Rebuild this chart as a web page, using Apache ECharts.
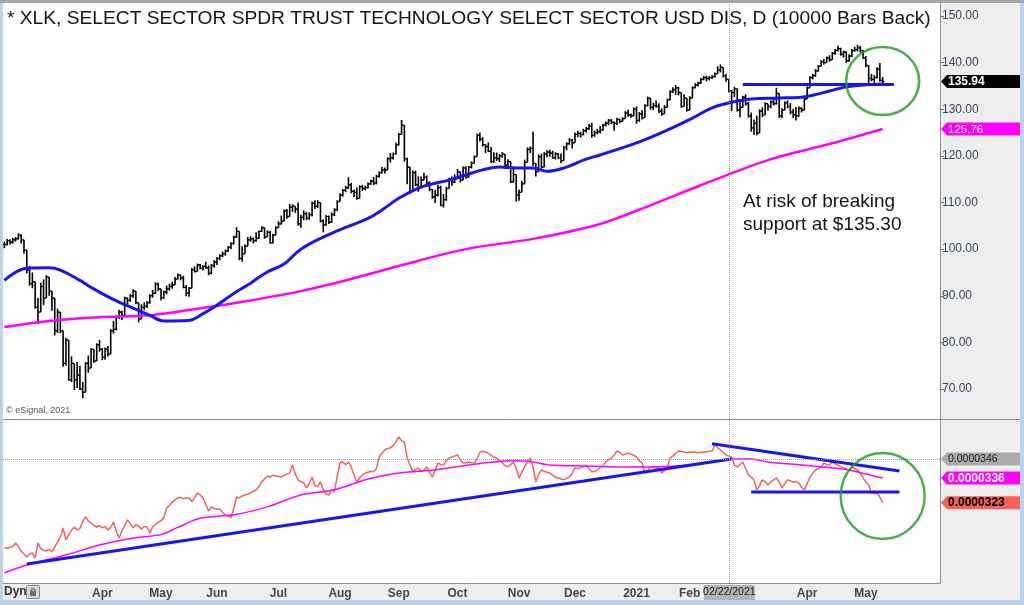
<!DOCTYPE html>
<html>
<head>
<meta charset="utf-8">
<title>XLK daily</title>
<script src="https://cdn.jsdelivr.net/npm/echarts@6/dist/echarts.min.js"></script>
<style>
  html, body { margin: 0; padding: 0; background: #bcd3ec; }
  #chart { width: 1024px; height: 605px; }
</style>
</head>
<body>
<div id="chart"></div>
<script>
// 交易日: 2020-02-11 起, 周末和休市日除外
const firstDay = [2020, 1, 11];
const totalSlots = 335; // 包含右边留白的空位
const holidays = ['2020-02-17', '2020-04-10', '2020-05-25', '2020-07-03', '2020-09-07',
  '2020-11-26', '2020-12-25', '2021-01-01', '2021-01-18', '2021-02-15', '2021-04-02', '2021-05-31'];
const monthNames = ['Jan', 'Feb', 'Mar', 'Apr', 'May', 'Jun', 'Jul', 'Aug', 'Sep', 'Oct', 'Nov', 'Dec'];
const noLabelMonths = ['2020-03', '2021-03'];
const noTickMonths = ['2020-03'];
const priceTicks = [70, 80, 90, 100, 110, 120, 130, 140, 150];

// XLK 日线收盘/最高/最低
const closes = [
  101.0, 101.8, 101.5, 102.0, 102.2, 103.0, 102.0, 99.8, 95.5, 92.6, 93.0, 87.5, 86.5,
  92.0, 89.5, 94.0, 91.0, 89.5, 82.5, 86.5, 82.5, 75.5, 80.5, 72.0, 75.5, 72.0, 73.0, 70.0, 69.3, 75.5, 74.5, 78.5, 76.0, 79.5, 78.5,
  76.8, 78.5, 77.5, 82.5, 82.8, 85.5, 86.5, 85.8, 89.5, 89.0, 90.0, 91.0, 88.5, 85.0, 87.5, 87.8, 88.5, 90.0, 90.5, 92.5, 91.5,
  89.6, 90.8, 91.5, 92.0, 92.3, 93.6, 94.4, 93.8, 91.8, 90.6, 91.6, 95.6, 95.2, 96.6, 95.9, 96.3, 96.0, 94.8, 96.5, 97.2,
  98.0, 98.6, 99.0, 99.6, 100.4, 101.2, 102.6, 103.8, 98.0, 99.0, 100.6, 102.0, 102.2, 101.8, 102.3, 103.8, 104.6, 102.6, 103.6, 101.4, 103.0, 104.6,
  105.4, 106.0, 108.2, 107.0, 109.0, 109.2, 108.6, 105.4, 106.8, 107.6, 106.6, 107.4, 109.8, 109.2, 110.0, 106.0, 105.2, 107.0, 105.8, 107.4, 108.4, 110.2,
  111.6, 112.6, 113.2, 113.8, 112.4, 112.2, 110.9, 113.4, 113.0, 113.2, 114.0, 114.6, 114.2, 115.6, 116.4, 117.0, 117.0, 119.4, 119.6, 120.4, 122.4,
  124.6, 126.6, 119.4, 117.6, 112.4, 116.4, 113.8, 113.2, 114.8, 115.4, 114.2, 112.8, 111.2, 111.6, 113.2, 109.4, 110.6, 113.0, 115.0, 114.4, 115.2,
  116.6, 114.8, 117.4, 115.4, 117.6, 118.4, 119.8, 124.4, 123.6, 122.4, 122.0, 121.0, 118.8, 119.6, 119.4, 120.0, 120.4, 118.0, 118.8, 114.4, 116.0, 111.6,
  112.2, 114.0, 118.6, 121.4, 121.6, 118.4, 116.6, 119.8, 117.6, 120.4, 120.8, 120.6, 119.6, 120.4, 119.6, 119.0, 121.8, 122.6, 123.4, 122.8,
  124.6, 124.8, 124.6, 125.4, 125.8, 126.4, 124.4, 125.0, 125.2, 125.6, 126.6, 127.0, 127.6, 127.2, 127.0, 127.8, 127.4, 128.0, 129.2, 128.8, 128.6, 130.0,
  127.6, 129.0, 128.2, 130.8, 132.4, 130.4, 130.8, 130.6, 129.6, 129.0, 130.4, 132.0, 133.8, 134.2, 134.6, 133.6, 130.6, 132.4, 129.8,
  132.4, 134.6, 135.2, 135.6, 136.4, 136.8, 136.6, 136.8, 137.0, 137.6, 138.4, 139.0, 137.2, 136.4, 134.0, 133.6, 134.4, 129.8, 130.4,
  132.6, 131.2, 128.6, 126.0, 127.0, 124.9, 129.6, 128.8, 131.2, 130.6, 131.6, 131.2, 133.4, 128.6, 129.8, 131.4, 130.6, 129.4, 128.8, 128.6, 130.2, 129.8, 132.2,
  134.6, 136.8, 137.2, 138.2, 139.2, 140.2, 140.0, 141.0, 140.6, 142.0, 142.6, 143.0, 141.8, 142.2, 140.4, 141.4, 142.6, 142.8, 143.2, 142.6, 141.0,
  139.4, 136.6, 136.4, 136.8, 138.6, 136.2, 135.94
];
const highs = [
  101.6, 102.2, 102.1, 102.4, 102.6, 103.4, 103.2, 101.8, 97.5, 96.4, 95.0, 91.8, 89.5,
  92.8, 93.5, 94.4, 93.2, 90.6, 86.0, 87.2, 85.5, 79.8, 81.0, 77.5, 77.0, 74.8, 75.8, 75.0, 71.5, 75.8, 77.2, 78.8, 77.8, 79.8, 80.5,
  78.8, 78.9, 79.2, 82.8, 84.6, 85.8, 87.0, 86.8, 89.8, 89.6, 90.4, 91.4, 90.2, 87.6, 88.2, 88.6, 88.9, 90.3, 91.2, 92.9, 92.8,
  91.2, 91.1, 92.2, 92.6, 93.0, 94.0, 94.8, 94.6, 94.3, 92.3, 91.9, 96.0, 96.3, 96.9, 96.8, 96.6, 97.3, 96.5, 96.8, 97.6,
  98.3, 98.9, 99.5, 99.9, 100.7, 101.5, 102.9, 104.7, 102.0, 100.6, 101.0, 102.6, 102.8, 102.5, 103.6, 104.0, 104.9, 104.4, 104.0, 103.9, 103.3, 104.9,
  106.0, 107.2, 108.5, 108.6, 109.7, 109.6, 109.0, 110.0, 107.4, 108.3, 108.0, 107.9, 110.2, 110.5, 110.5, 109.4, 106.4, 107.3, 107.2, 107.9, 108.8, 110.5,
  112.0, 112.9, 113.6, 115.4, 114.2, 112.8, 113.2, 113.7, 113.8, 113.6, 114.3, 114.9, 115.5, 115.9, 116.7, 117.6, 117.5, 119.7, 120.6, 120.7, 122.8,
  124.9, 127.7, 126.0, 119.6, 115.8, 116.9, 116.8, 115.6, 115.6, 116.4, 115.8, 114.5, 112.9, 112.7, 113.8, 113.6, 111.8, 113.4, 115.3, 115.6, 116.0,
  117.2, 116.4, 117.7, 117.8, 117.8, 118.8, 120.1, 124.8, 125.0, 124.0, 122.5, 122.9, 121.9, 120.8, 120.7, 120.4, 120.8, 120.3, 119.3, 117.7, 117.4, 114.6,
  112.8, 114.6, 119.2, 121.8, 122.0, 125.2, 118.4, 120.3, 120.5, 120.8, 121.2, 121.3, 121.1, 120.8, 120.6, 120.5, 122.1, 122.9, 123.8, 123.6,
  125.0, 125.4, 125.2, 125.8, 126.2, 126.9, 127.1, 125.4, 125.8, 126.4, 126.9, 127.4, 127.9, 127.9, 127.4, 128.2, 128.0, 128.3, 129.6, 129.9, 129.1, 130.4,
  130.6, 129.4, 129.8, 131.1, 132.7, 131.6, 131.4, 131.9, 131.3, 130.2, 130.9, 132.3, 134.1, 134.7, 135.2, 134.8, 132.4, 133.2, 132.1,
  132.8, 134.9, 135.6, 135.9, 136.7, 137.1, 137.2, 137.1, 137.3, 137.9, 139.2, 139.6, 138.6, 137.6, 135.8, 134.2, 134.8, 134.2, 131.5,
  132.9, 133.2, 131.6, 129.3, 127.8, 128.6, 130.0, 130.4, 131.5, 131.0, 131.9, 132.5, 134.6, 133.0, 130.2, 131.7, 131.9, 131.3, 130.1, 130.5, 130.6, 130.4, 132.6,
  134.9, 137.1, 137.6, 138.6, 139.5, 140.5, 140.8, 141.3, 141.6, 142.3, 142.9, 143.6, 143.2, 142.6, 142.5, 141.8, 142.9, 143.4, 143.8, 143.6, 142.7,
  141.4, 138.4, 137.6, 137.3, 139.0, 139.9, 136.9
];
const lows = [
  100.2, 100.8, 101.0, 101.2, 101.6, 102.1, 101.2, 99.0, 94.8, 92.2, 91.6, 87.2, 84.0,
  87.4, 88.0, 90.2, 90.0, 86.8, 81.5, 82.0, 82.0, 74.8, 75.0, 71.8, 71.5, 69.8, 70.2, 69.8, 68.0, 72.5, 73.5, 74.6, 75.6, 76.2, 78.0,
  76.2, 76.3, 77.0, 78.5, 81.9, 82.6, 85.0, 84.8, 86.5, 88.1, 88.7, 89.6, 88.2, 84.3, 85.2, 86.9, 87.4, 88.3, 89.6, 90.4, 91.0,
  89.0, 89.3, 90.3, 91.1, 91.5, 92.6, 93.5, 93.3, 91.6, 89.9, 89.8, 93.8, 95.0, 95.3, 95.7, 95.4, 95.8, 94.4, 94.6, 96.0,
  96.6, 97.6, 98.3, 98.6, 99.4, 100.0, 101.0, 102.4, 97.6, 97.3, 99.2, 100.9, 101.6, 101.2, 101.6, 102.2, 103.7, 102.2, 102.7, 101.1, 101.2, 103.0,
  104.6, 105.3, 106.3, 106.5, 107.0, 108.0, 107.8, 105.0, 104.6, 106.2, 106.2, 106.3, 107.0, 108.6, 108.8, 105.7, 103.6, 105.0, 105.4, 105.6, 107.1, 108.2,
  110.6, 111.3, 112.2, 112.9, 112.0, 111.2, 110.6, 111.4, 112.5, 112.6, 113.0, 113.8, 113.7, 113.9, 115.3, 116.2, 116.2, 116.9, 118.6, 119.2, 120.3,
  122.2, 124.6, 118.8, 113.9, 111.8, 113.4, 113.5, 112.3, 113.4, 114.9, 113.9, 112.4, 110.8, 109.9, 111.3, 109.2, 108.9, 110.4, 113.1, 113.6, 114.2,
  115.2, 114.3, 115.0, 115.1, 115.8, 117.3, 118.5, 121.6, 123.1, 122.0, 120.6, 120.8, 118.4, 118.5, 118.9, 118.7, 119.6, 117.2, 117.7, 114.2, 114.3, 110.2,
  110.4, 112.9, 116.6, 119.6, 120.6, 117.8, 115.6, 117.4, 117.3, 118.2, 119.7, 119.8, 119.4, 119.2, 119.3, 118.4, 119.3, 121.2, 122.4, 121.6,
  123.2, 124.0, 123.9, 124.4, 125.0, 125.6, 123.9, 124.1, 124.6, 124.8, 125.4, 126.3, 126.6, 126.8, 125.4, 126.6, 127.0, 127.3, 128.2, 128.4, 128.2, 128.5,
  126.9, 127.3, 127.8, 128.9, 130.6, 129.9, 129.8, 130.3, 129.2, 128.6, 129.5, 130.9, 132.6, 133.5, 133.1, 133.0, 130.3, 131.1, 129.5,
  129.8, 132.6, 134.5, 134.9, 135.4, 136.2, 136.0, 136.2, 136.5, 136.8, 137.7, 137.9, 136.8, 135.9, 133.6, 129.6, 132.6, 129.5, 128.3,
  130.9, 130.8, 128.2, 125.2, 124.5, 124.4, 126.3, 128.3, 129.9, 129.7, 130.2, 130.8, 131.0, 128.2, 128.1, 129.9, 130.2, 128.9, 128.1, 127.6, 128.4, 129.3, 129.8,
  132.5, 135.4, 136.4, 137.0, 138.1, 139.2, 139.6, 140.0, 140.2, 140.6, 141.7, 142.4, 141.5, 141.1, 139.9, 140.2, 141.2, 142.3, 142.4, 142.2, 140.8,
  139.0, 135.5, 136.0, 135.7, 136.6, 135.9, 135.6
];

// 均线 [交易日序号, 值]
const ma50 = [[0, 93.3], [8, 95.9], [16, 96.0], [20, 95.5], [27, 93.3], [31, 91.8], [38, 89.5], [45, 87.6],
  [52, 85.8], [57, 84.6], [66, 84.7], [70, 85.8], [75, 87.6], [82, 90.5], [88, 92.7], [94, 95.1], [100, 96.8],
  [106, 100.0], [117, 103.4], [130, 106.6], [135, 108.4], [141, 110.9], [148, 113.1], [153, 114.0], [159, 114.8],
  [165, 115.9], [171, 117.0], [177, 117.6], [183, 117.4], [189, 117.4], [194, 116.7], [201, 117.6], [207, 119.1],
  [213, 120.2], [227, 123.0], [238, 125.8], [246, 128.1], [253, 130.3], [260, 131.5], [267, 132.2], [277, 132.4],
  [285, 132.6], [289, 133.0], [295, 133.9], [301, 134.8], [307, 135.2], [314, 135.4]];
const ma200 = [[0, 83.3], [16, 84.6], [34, 85.4], [52, 85.8], [70, 87.3], [88, 89.0], [106, 91.0], [124, 93.6],
  [141, 96.4], [165, 100.0], [189, 102.2], [213, 105.4], [231, 109.4], [249, 113.7], [273, 119.1], [296, 122.7], [314, 125.76]];
const supportLine = [[264, 135.3], [318, 135.3]];

// 相对强度 (单位 1e-7)
const rsScale = 1e7;
const rsLine = [
  299.5, 299, 299.5, 299.8, 301.8, 300, 297.5, 296, 294.4, 296,
  296.5, 294, 301.8, 299, 298, 297.5, 298.5, 297, 299.7, 302.3,
  305, 309.7, 303.4, 306, 308.6, 310, 308.6, 309.5, 313, 315.5,
  313.5, 312.3, 311, 310.2, 311, 309.7, 310.5, 308.6, 310, 312.8,
  308, 304.4, 308, 311, 313.9, 312, 309.7, 311.5, 310.7, 309,
  310.5, 310.2, 307, 310.2, 311.5, 312.8, 313.5, 315, 320.2, 321.5,
  323.4, 324.5, 325.5, 325.8, 325, 325.5, 325.5, 323.4, 325.5, 328.1,
  327, 325.5, 322, 318.6, 320.7, 320, 319.5, 319.7, 318, 316.5,
  316, 315, 320, 326, 325.5, 326.5, 327, 327.5, 328.1, 329,
  329.7, 331.5, 333.9, 335.5, 337, 336.5, 337.5, 337, 336.8, 336.5,
  337.5, 338, 338.6, 342.8, 338, 335, 334, 333.4, 330.7, 333,
  336.5, 332, 331.3, 333.9, 329.7, 327.5, 327, 329.7, 329, 337,
  343.9, 344.5, 343, 344.4, 341.8, 337.5, 333.9, 336, 337.6, 338.5,
  339, 339.5, 339.2, 341, 347, 349, 350.7, 351.5, 351.8, 353,
  355, 357.6, 355.5, 355, 346.5, 343, 339.2, 340.5, 341.3, 339.2,
  340, 341.8, 339, 336.5, 340, 343.9, 343, 342.8, 345, 346.5,
  347, 347.5, 348.1, 345.5, 343.9, 344, 344.4, 344, 343.9, 346,
  349.7, 350, 349.7, 349, 348, 347, 346.5, 345.5, 344, 342.5,
  341.8, 343, 344.4, 341, 336, 339, 341.8, 344.5, 346.5, 341.8,
  333.9, 338, 340.2, 339.5, 339, 338.6, 337.5, 336.5, 336, 335.5,
  335, 335.8, 336.5, 338.5, 341.3, 341, 341.3, 342, 342.8, 341,
  339.2, 339.5, 340.2, 341.5, 342.5, 344.4, 345.5, 346.5, 348, 350.2,
  349.5, 348.1, 348.5, 349.1, 348.5, 348, 347, 345, 343.9, 338.6,
  340, 341.8, 341.5, 341.3, 341.3, 338.6, 340, 341.8, 346.5, 347.5,
  349, 350.2, 350, 349.5, 349.2, 349.5, 349.7, 349.5, 349.2, 349.5,
  349.7, 349.7, 350, 350.2, 353.4, 352, 350.7, 349.5, 348.1, 347.5,
  347, 342.8, 341.8, 343, 344.4, 341, 337.6, 336.5, 335, 329.7,
  332, 335, 334, 332.3, 334, 335, 336, 334, 330.7, 333,
  335, 334.5, 333.9, 334, 333.4, 331, 329.7, 333, 336.5, 338.5,
  340.2, 341, 341.8, 343.9, 343, 342.8, 344.4, 343.5, 342.8, 342,
  341.3, 340.8, 340.2, 341.8, 341, 340.2, 338.5, 336, 334, 332.3,
  328.1, 328, 328.1, 326, 323
];
const rsMa = [[0, 286], [8, 290.2], [22, 295.5], [34, 300.7], [46, 304.4], [56, 306.2], [62, 310], [70, 314.8],
  [82, 316.6], [94, 320.8], [106, 327], [118, 329.8], [130, 335.5], [142, 338.8], [154, 340.2], [166, 342.8],
  [175, 344.4], [183, 345], [189, 344.4], [195, 342.8], [207, 342.3], [219, 341.8], [231, 341.8], [243, 342.5],
  [249, 343.9], [261, 346], [267, 346], [273, 344.4], [285, 342.8], [296, 341.3], [302, 340.2], [308, 338.1], [314, 336]];
const rsTrendUp = [[8, 290.7], [260, 346]];
const rsTrendTop = [[253, 354], [320, 339.7]];
const rsTrendLow = [[267, 328.6], [320, 328.6]];

// 光标 & 圈注
const cursorDate = '2021-02-22';
const cursorRs = 346;
const priceCircle = [[314, 136.05]];
const rsCircle = [[314, 326.5]];

const FONT = 'Liberation Sans, Arial, sans-serif';
const frameBlue = '#bcd3ec';
const blue = '#1616ee';
const magenta = '#ff00ff';
const green = '#1f991f';

// 生成交易日
const days = [];
const d = new Date(Date.UTC(firstDay[0], firstDay[1], firstDay[2]));
while (days.length < totalSlots) {
  const s = d.toISOString().slice(0, 10);
  const wd = d.getUTCDay();
  if (wd !== 0 && wd !== 6 && holidays.indexOf(s) < 0) days.push(s);
  d.setUTCDate(d.getUTCDate() + 1);
}
const lastIdx = closes.length - 1;
const monthStart = i => i > 0 && days[i].slice(0, 7) !== days[i - 1].slice(0, 7);
const showLabel = i => monthStart(i) && i <= lastIdx && noLabelMonths.indexOf(days[i].slice(0, 7)) < 0;
const showTick = i => monthStart(i) && i <= lastIdx && noTickMonths.indexOf(days[i].slice(0, 7)) < 0;
const monthLabel = v => {
  const m = +v.slice(5, 7);
  return m === 1 ? v.slice(0, 4) : monthNames[m - 1];
};

// OHLC 数据 (开盘取前一日收盘)
const ohlc = closes.map((c, i) => [i, i > 0 ? closes[i - 1] : c, highs[i], lows[i], c]);

function renderBar(params, api) {
  const i = api.value(0);
  const yo = api.coord([i, api.value(1)])[1];
  const yh = api.coord([i, api.value(2)])[1];
  const yl = api.coord([i, api.value(3)])[1];
  const p = api.coord([i, api.value(4)]);
  const x = p[0], yc = p[1];
  const top = Math.min(yh, yo, yc), bottom = Math.max(yl, yo, yc);
  const style = { stroke: '#000', lineWidth: 1.6 };
  return {
    type: 'group',
    children: [
      { type: 'line', shape: { x1: x, y1: top, x2: x, y2: bottom }, style },
      { type: 'line', shape: { x1: x - 1.8, y1: yo, x2: x, y2: yo }, style: { stroke: '#000', lineWidth: 1.2 } },
      { type: 'line', shape: { x1: x, y1: yc, x2: x + 1.8, y2: yc }, style: { stroke: '#000', lineWidth: 1.2 } }
    ]
  };
}

const lineSeries = (name, data, xi, color, width, extra) => Object.assign({
  name, type: 'line', xAxisIndex: xi, yAxisIndex: xi, data,
  symbol: 'none', lineStyle: { color, width }, silent: true
}, extra || {});

const cursorMark = (data) => ({
  silent: true, symbol: 'none', animation: false, label: { show: false },
  lineStyle: { type: 'dotted', color: '#9a9a9a', width: 1 }, data
});

const staticGraphic = [
  { type: 'rect', z: 50, shape: { x: 0, y: 0, width: 3, height: 605 }, style: { fill: frameBlue } },
  { type: 'rect', z: 50, shape: { x: 1020, y: 0, width: 4, height: 605 }, style: { fill: frameBlue } },
  { type: 'rect', z: 50, shape: { x: 0, y: 600, width: 1024, height: 5 }, style: { fill: frameBlue } },
  { type: 'rect', z: 50, shape: { x: 0, y: 0, width: 1024, height: 3 }, style: { fill: '#a6a6a6' } },
  { type: 'line', z: 50, shape: { x1: 940.5, y1: 3, x2: 940.5, y2: 583 }, style: { stroke: '#8e8e8e', lineWidth: 1 } },
  { type: 'line', z: 50, shape: { x1: 3, y1: 419.5, x2: 1020, y2: 419.5 }, style: { stroke: '#8e8e8e', lineWidth: 1 } },
  { type: 'text', z: 50, x: 7, y: 19, style: { text: '* XLK, SELECT SECTOR SPDR TRUST TECHNOLOGY SELECT SECTOR USD DIS, D (10000 Bars Back)',
    font: '19.2px ' + FONT, fill: '#141414', verticalAlign: 'middle' } },
  { type: 'text', z: 50, x: 743, y: 190, style: { text: 'At risk of breaking\nsupport at $135.30',
    font: '19px ' + FONT, fill: '#141414', lineHeight: 23 } },
  { type: 'text', z: 50, x: 6, y: 411, style: { text: '\u00a9 eSignal, 2021', font: '9px ' + FONT, fill: '#555', verticalAlign: 'middle' } },
  { type: 'text', z: 50, x: 4, y: 592, style: { text: 'Dyn', font: 'bold 12px ' + FONT, fill: '#333', verticalAlign: 'middle' } },
  { type: 'rect', z: 50, shape: { x: 26.5, y: 585.5, width: 13, height: 13, r: 1 }, style: { fill: '#d6d6d6', stroke: '#8a8a8a', lineWidth: 1 } },
  { type: 'rect', z: 51, shape: { x: 30, y: 591, width: 6, height: 5 }, style: { fill: '#6a6a6a' } },
  { type: 'arc', z: 51, shape: { cx: 33, cy: 591, r: 2.2, startAngle: Math.PI, endAngle: 2 * Math.PI }, style: { stroke: '#6a6a6a', lineWidth: 1.2, fill: null } }
];

const chart = echarts.init(document.getElementById('chart'));
chart.setOption({
  animation: false,
  backgroundColor: '#eeeeee',
  textStyle: { fontFamily: FONT },
  grid: [
    { left: 3, top: 3, width: 937, height: 416, show: true, backgroundColor: '#fff', borderWidth: 0 },
    { left: 3, top: 420, width: 937, height: 163, show: true, backgroundColor: '#fff', borderWidth: 0 }
  ],
  xAxis: [
    { type: 'category', gridIndex: 0, data: days, boundaryGap: true, show: false },
    {
      type: 'category', gridIndex: 1, data: days, boundaryGap: true,
      axisLine: { lineStyle: { color: '#8e8e8e' } },
      axisTick: { alignWithLabel: true, length: 3, interval: i => showTick(i), lineStyle: { color: '#8e8e8e' } },
      axisLabel: { interval: i => showLabel(i), formatter: monthLabel, fontWeight: 'bold', fontSize: 12, color: '#474747', margin: 5 }
    }
  ],
  yAxis: [
    {
      type: 'value', gridIndex: 0, position: 'right', min: 63.57, max: 152.79,
      axisLine: { show: false }, splitLine: { show: false },
      axisTick: { show: true, length: 4, customValues: priceTicks, lineStyle: { color: '#6a6a6a' } },
      axisLabel: { customValues: priceTicks, formatter: v => v.toFixed(2), fontSize: 12, color: '#38465a', margin: 2 }
    },
    { type: 'value', gridIndex: 1, position: 'right', min: 280.74, max: 366.5, show: false }
  ],
  series: [
    { name: 'XLK', type: 'custom', xAxisIndex: 0, yAxisIndex: 0, renderItem: renderBar, data: ohlc,
      encode: { x: 0, y: [1, 2, 3, 4] }, silent: true, z: 2 },
    lineSeries('MA200', ma200, 0, magenta, 2.5, { smooth: 0.3, z: 3 }),
    lineSeries('MA50', ma50, 0, blue, 3, { smooth: 0.4, z: 3, markLine: cursorMark([{ xAxis: cursorDate }]) }),
    lineSeries('Support', supportLine, 0, blue, 3, { z: 4 }),
    { type: 'scatter', xAxisIndex: 0, yAxisIndex: 0, data: priceCircle, symbol: 'circle', symbolSize: [73, 68],
      itemStyle: { color: 'rgba(0,0,0,0)', borderColor: green, borderWidth: 2.5 }, silent: true, z: 5 },
    lineSeries('RS', rsLine, 1, '#f2625a', 1.5, { z: 3, markLine: cursorMark([{ xAxis: cursorDate }, { yAxis: cursorRs }]) }),
    lineSeries('RS MA', rsMa, 1, magenta, 1.5, { smooth: 0.3, z: 3 }),
    lineSeries('RS up', rsTrendUp, 1, blue, 3, { z: 4 }),
    lineSeries('RS top', rsTrendTop, 1, blue, 3, { z: 4 }),
    lineSeries('RS low', rsTrendLow, 1, blue, 3, { z: 4 }),
    { type: 'scatter', xAxisIndex: 1, yAxisIndex: 1, data: rsCircle, symbol: 'circle', symbolSize: [84, 86],
      itemStyle: { color: 'rgba(0,0,0,0)', borderColor: green, borderWidth: 2.5 }, silent: true, z: 5 }
  ],
  graphic: staticGraphic
});

// 右侧价格标签
function tag(y, text, fill, color, font) {
  return {
    type: 'group', z: 60, children: [
      { type: 'polygon', z: 60, shape: { points: [[941, y], [947, y - 6.5], [1020, y - 6.5], [1020, y + 6.5], [947, y + 6.5]] }, style: { fill } },
      { type: 'text', z: 61, x: 948, y: y + 0.5, style: { text, fill: color, font: font + ' ' + FONT, verticalAlign: 'middle' } }
    ]
  };
}
const yPrice = v => chart.convertToPixel({ yAxisIndex: 0 }, v);
const yRs = v => chart.convertToPixel({ yAxisIndex: 1 }, v);
const rsText = v => (v / rsScale).toFixed(7);
const lastMa200 = ma200[ma200.length - 1][1];
const lastRsMa = rsMa[rsMa.length - 1][1];
const xCursor = chart.convertToPixel({ xAxisIndex: 1 }, cursorDate);

chart.setOption({
  graphic: staticGraphic.concat([
    tag(yPrice(closes[lastIdx]), closes[lastIdx].toFixed(2), '#000', '#fff', 'bold 12px'),
    tag(yPrice(lastMa200), lastMa200.toFixed(2), magenta, '#fff', '11.5px'),
    tag(yRs(cursorRs), rsText(cursorRs), '#aaaaaa', '#1a1a1a', '10.5px'),
    tag(yRs(lastRsMa), rsText(lastRsMa), magenta, '#fff', 'bold 12px'),
    tag(yRs(rsLine[lastIdx]), rsText(rsLine[lastIdx]), '#f2625a', '#000', 'bold 12px'),
    { type: 'rect', z: 60, shape: { x: xCursor - 25, y: 585, width: 51, height: 15 }, style: { fill: '#b4b4b4' } },
    { type: 'text', z: 61, x: xCursor + 0.5, y: 592.5, style: { text: '02/22/2021', font: '10.5px ' + FONT, fill: '#222', align: 'center', verticalAlign: 'middle' } }
  ])
});
</script>
</body>
</html>
